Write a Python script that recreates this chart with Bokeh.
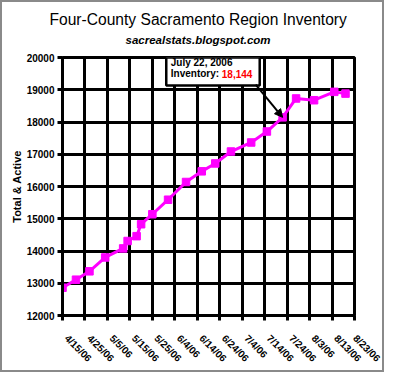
import math
import pandas as pd
from bokeh.plotting import figure
from bokeh.models import Title, FixedTicker, Label, Arrow, NormalHead, BoxAnnotation, Range1d
from bokeh.embed import file_html
from bokeh.resources import INLINE

# ---- data ----
dates = ["2006-04-15", "2006-04-21", "2006-04-27", "2006-05-04", "2006-05-12",
         "2006-05-14", "2006-05-18", "2006-05-20", "2006-05-25", "2006-06-01",
         "2006-06-09", "2006-06-16", "2006-06-22", "2006-06-29", "2006-07-08",
         "2006-07-15", "2006-07-22", "2006-07-28", "2006-08-05", "2006-08-14",
         "2006-08-19"]
inventory = [12860, 13110, 13370, 13800, 14080,
             14310, 14460, 14830, 15140, 15590,
             16140, 16470, 16715, 17085, 17365,
             17705, 18144, 18730, 18675, 18935,
             18880]
tick_labels = ["4/15/06", "4/25/06", "5/5/06", "5/15/06", "5/25/06", "6/4/06",
               "6/14/06", "6/24/06", "7/4/06", "7/14/06", "7/24/06", "8/3/06",
               "8/13/06", "8/23/06"]
y_ticks = [12000, 13000, 14000, 15000, 16000, 17000, 18000, 19000, 20000]
note_date = "2006-07-22"
note_value = 18144
title_text = "Four-County Sacramento Region Inventory"
subtitle_text = "sacrealstats.blogspot.com"
y_label = "Total & Active"

start = pd.Timestamp("2006-04-15")
xs = [(pd.Timestamp(d) - start).days for d in dates]
tick_pos = [(pd.to_datetime(t, format="%m/%d/%y") - start).days for t in tick_labels]
note_x = (pd.Timestamp(note_date) - start).days

FONT = "Liberation Sans"
NB = "\u00a0"

p = figure(frame_width=292, frame_height=258,
           min_border_left=60, min_border_right=28, min_border_top=55, min_border_bottom=54,
           x_range=Range1d(tick_pos[0], tick_pos[-1]),
           y_range=Range1d(y_ticks[0], y_ticks[-1]),
           output_backend="svg", toolbar_location=None, title=None,
           background_fill_color="white", border_fill_color="white")
p.styles = {"border": "2px solid #8a8a8a"}

p.add_layout(Title(text=subtitle_text, align="left", offset=63, text_font=FONT,
                   text_font_size="11.5px", text_font_style="bold italic",
                   text_color="black", standoff=24), "above")
p.add_layout(Title(text=title_text, align="left", offset=-13, text_font=FONT,
                   text_font_size="15.6px", text_font_style="normal",
                   text_color="black", standoff=-16), "above")

p.outline_line_color = "black"
p.outline_line_width = 3

p.xaxis.ticker = FixedTicker(ticks=tick_pos)
p.xaxis.major_label_overrides = {tp: NB * 2 + lab for tp, lab in zip(tick_pos, tick_labels)}
p.xaxis.major_label_orientation = -math.pi / 4
p.xaxis.major_label_standoff = 12
p.yaxis.ticker = FixedTicker(ticks=y_ticks)
p.yaxis.axis_label = y_label

for ax in (p.xaxis[0], p.yaxis[0]):
    ax.axis_line_color = "black"
    ax.axis_line_width = 3
    ax.major_tick_line_color = "black"
    ax.major_tick_line_width = 3
    ax.major_tick_out = 5
    ax.major_tick_in = 0
    ax.minor_tick_line_color = None
    ax.major_label_text_font = FONT
    ax.major_label_text_font_style = "bold"
    ax.major_label_text_color = "black"
    ax.axis_label_text_font = FONT
    ax.axis_label_text_font_style = "bold"
    ax.axis_label_text_font_size = "11px"
    ax.axis_label_text_color = "black"

p.xaxis.major_label_text_font_size = "10px"
p.yaxis.major_label_text_font_size = "10px"
p.yaxis.major_label_standoff = 3
p.yaxis.axis_label_standoff = 1

for g in (p.xgrid[0], p.ygrid[0]):
    g.grid_line_color = "black"
    g.grid_line_width = 3
    g.grid_line_alpha = 1.0
p.xgrid.ticker = FixedTicker(ticks=tick_pos)
p.ygrid.ticker = FixedTicker(ticks=y_ticks)

p.line(xs, inventory, line_color="#FF00FF", line_width=3)
p.scatter(xs, inventory, marker="square", size=7.5, fill_color="#FF00FF",
          line_color="#FF00FF")

# callout box
p.add_layout(BoxAnnotation(left=46.2, right=87.8, top=20000, bottom=19135,
                           fill_color="white", fill_alpha=1.0,
                           line_color="black", line_width=2.5, line_alpha=1.0))
p.add_layout(Label(x=48.2, y=19840, text="July 22, 2006", text_font=FONT,
                   text_font_style="bold", text_font_size="10px",
                   text_baseline="middle", text_color="black"))
p.add_layout(Label(x=48.2, y=19500, text="Inventory: ", text_font=FONT,
                   text_font_style="bold", text_font_size="10px",
                   text_baseline="middle", text_color="black"))
p.add_layout(Label(x=70.9, y=19500, text=f"{note_value:,}", text_font=FONT,
                   text_font_style="bold", text_font_size="10px",
                   text_baseline="middle", text_color="#FF0000"))
p.add_layout(Arrow(x_start=86.0, y_start=19160, x_end=note_x, y_end=note_value,
                   line_color="black", line_width=2,
                   end=NormalHead(size=8, fill_color="black", line_color="black")))

open("out.html", "w").write(file_html(p, INLINE))
